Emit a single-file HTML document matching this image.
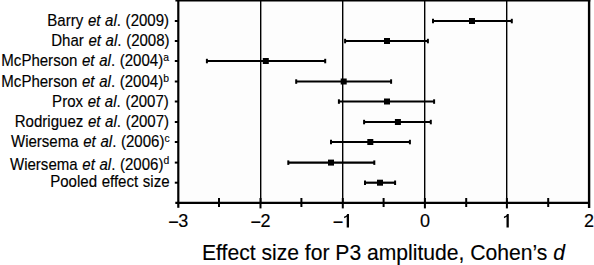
<!DOCTYPE html>
<html><head><meta charset="utf-8">
<style>
html,body{margin:0;padding:0;background:#fff;}
body{width:594px;height:265px;position:relative;overflow:hidden;font-family:"Liberation Sans",sans-serif;color:#000;}
.lab{position:absolute;right:424.7px;font-size:15.7px;line-height:15.7px;white-space:nowrap;text-align:right;transform:scaleX(0.958);transform-origin:100% 50%;word-spacing:0.5px;-webkit-text-stroke:0.15px #000;}
.lab sup{font-size:10.8px;line-height:0;vertical-align:0;position:relative;top:-5.5px;}
.tk{position:absolute;top:212px;font-size:18px;line-height:18px;width:60px;text-align:center;transform:scaleX(1.0);-webkit-text-stroke:0.15px #000;}
.title{position:absolute;left:202px;top:241.9px;font-size:22px;line-height:22px;white-space:nowrap;transform:scaleX(0.9595);transform-origin:0 50%;-webkit-text-stroke:0.15px #000;}
svg{position:absolute;left:0;top:0;}
.h{visibility:hidden;}
.m{position:relative;top:1.2px;left:0.5px;}
</style></head><body>
<svg width="594" height="265" viewBox="0 0 594 265">
 <rect x="178" y="1" width="411" height="202" fill="#fdfdfd"/>
 <g stroke="#000" fill="none">
  <g stroke-width="1.4">
   <line x1="260.7" y1="0" x2="260.7" y2="202"/>
   <line x1="342.7" y1="0" x2="342.7" y2="202"/>
   <line x1="424.7" y1="0" x2="424.7" y2="202"/>
   <line x1="506.7" y1="0" x2="506.7" y2="202"/>
  </g>
  <line x1="175.4" y1="0.75" x2="590.3" y2="0.75" stroke-width="1.5"/>
  <line x1="178.3" y1="0" x2="178.3" y2="207.8" stroke-width="2.2"/>
  <line x1="589.1" y1="0" x2="589.1" y2="208" stroke-width="2.4"/>
  <line x1="175.3" y1="202.8" x2="589" y2="202.8" stroke-width="2.2"/>
  <g stroke-width="2">
   <line x1="260.5" y1="198" x2="260.5" y2="208.4"/>
   <line x1="342.8" y1="198" x2="342.8" y2="208.4"/>
   <line x1="424.9" y1="198" x2="424.9" y2="208.4"/>
   <line x1="506.9" y1="198" x2="506.9" y2="208.4"/>
   <line x1="219" y1="198" x2="219" y2="207"/>
   <line x1="301.4" y1="198" x2="301.4" y2="207"/>
   <line x1="383.6" y1="198" x2="383.6" y2="207"/>
   <line x1="466.2" y1="198" x2="466.2" y2="207"/>
   <line x1="548.2" y1="198" x2="548.2" y2="207"/>
  </g>
  <g stroke-width="2">
   <line x1="174.8" y1="21.0" x2="178" y2="21.0"/>
<line x1="174.8" y1="41.0" x2="178" y2="41.0"/>
<line x1="174.8" y1="61.0" x2="178" y2="61.0"/>
<line x1="174.8" y1="81.5" x2="178" y2="81.5"/>
<line x1="174.8" y1="101.5" x2="178" y2="101.5"/>
<line x1="174.8" y1="122.0" x2="178" y2="122.0"/>
<line x1="174.8" y1="142.0" x2="178" y2="142.0"/>
<line x1="174.8" y1="162.6" x2="178" y2="162.6"/>
<line x1="174.8" y1="182.7" x2="178" y2="182.7"/>
  </g>
  <g stroke-width="2.2">
   <line x1="433.0" y1="21.0" x2="511.8" y2="21.0"/>
<line x1="433.0" y1="18.80" x2="433.0" y2="23.30" stroke-width="2.0"/>
<line x1="511.8" y1="18.80" x2="511.8" y2="23.30" stroke-width="2.0"/>
<line x1="345.1" y1="41.0" x2="427.9" y2="41.0"/>
<line x1="345.1" y1="38.80" x2="345.1" y2="43.30" stroke-width="2.0"/>
<line x1="427.9" y1="38.80" x2="427.9" y2="43.30" stroke-width="2.0"/>
<line x1="206.9" y1="61.0" x2="325.2" y2="61.0"/>
<line x1="206.9" y1="58.80" x2="206.9" y2="63.30" stroke-width="2.0"/>
<line x1="325.2" y1="58.80" x2="325.2" y2="63.30" stroke-width="2.0"/>
<line x1="296.2" y1="81.5" x2="391.1" y2="81.5"/>
<line x1="296.2" y1="79.30" x2="296.2" y2="83.80" stroke-width="2.0"/>
<line x1="391.1" y1="79.30" x2="391.1" y2="83.80" stroke-width="2.0"/>
<line x1="338.9" y1="101.5" x2="434.1" y2="101.5"/>
<line x1="338.9" y1="99.30" x2="338.9" y2="103.80" stroke-width="2.0"/>
<line x1="434.1" y1="99.30" x2="434.1" y2="103.80" stroke-width="2.0"/>
<line x1="364.1" y1="122.0" x2="430.8" y2="122.0"/>
<line x1="364.1" y1="119.80" x2="364.1" y2="124.30" stroke-width="2.0"/>
<line x1="430.8" y1="119.80" x2="430.8" y2="124.30" stroke-width="2.0"/>
<line x1="331.0" y1="142.0" x2="409.9" y2="142.0"/>
<line x1="331.0" y1="139.80" x2="331.0" y2="144.30" stroke-width="2.0"/>
<line x1="409.9" y1="139.80" x2="409.9" y2="144.30" stroke-width="2.0"/>
<line x1="288.3" y1="162.6" x2="374.3" y2="162.6"/>
<line x1="288.3" y1="160.40" x2="288.3" y2="164.90" stroke-width="2.0"/>
<line x1="374.3" y1="160.40" x2="374.3" y2="164.90" stroke-width="2.0"/>
<line x1="365.0" y1="182.7" x2="395.1" y2="182.7"/>
<line x1="365.0" y1="180.50" x2="365.0" y2="185.00" stroke-width="2.0"/>
<line x1="395.1" y1="180.50" x2="395.1" y2="185.00" stroke-width="2.0"/>
  </g>
 </g>
 <g fill="#000">
  <path d="M349.00,213.9 L347.20,213.9 C346.70,215.20 345.65,216.10 344.15,216.50 L344.15,218.20 C345.25,217.90 346.05,217.40 346.70,216.80 L346.70,227.4 L349.00,227.4 Z"/><path d="M508.80,213.9 L507.00,213.9 C506.50,215.20 505.45,216.10 503.95,216.50 L503.95,218.20 C505.05,217.90 505.85,217.40 506.50,216.80 L506.50,227.4 L508.80,227.4 Z"/>
  <rect x="469.0" y="18.0" width="6" height="6"/>
<rect x="384.0" y="38.0" width="6" height="6"/>
<rect x="262.8" y="58.0" width="6" height="6"/>
<rect x="340.7" y="78.5" width="6" height="6"/>
<rect x="384.0" y="98.5" width="6" height="6"/>
<rect x="394.9" y="119.0" width="6" height="6"/>
<rect x="367.3" y="139.0" width="6" height="6"/>
<rect x="328.0" y="159.6" width="6" height="6"/>
<rect x="377.0" y="179.7" width="6" height="6"/>
 </g>
</svg>
<div class="lab" style="top:12.51px">Barry <i>et al</i>. (2009)</div>
<div class="lab" style="top:32.81px">Dhar <i>et al</i>. (2008)</div>
<div class="lab" style="top:53.31px">McPherson <i>et al</i>. (2004)<sup>a</sup></div>
<div class="lab" style="top:74.11px">McPherson <i>et al</i>. (2004)<sup>b</sup></div>
<div class="lab" style="top:93.51px">Prox <i>et al</i>. (2007)</div>
<div class="lab" style="top:113.51px">Rodriguez <i>et al</i>. (2007)</div>
<div class="lab" style="top:134.11px">Wiersema <i>et al</i>. (2006)<sup>c</sup></div>
<div class="lab" style="top:156.61px">Wiersema <i>et al</i>. (2006)<sup>d</sup></div>
<div class="lab" style="top:174.11px">Pooled effect size</div>
<div class="tk" style="left:148px"><span class=m>&minus;</span>3</div>
<div class="tk" style="left:230.2px"><span class=m>&minus;</span>2</div>
<div class="tk" style="left:312.6px"><span class=m>&minus;</span><span class=h>1</span></div>
<div class="tk" style="left:395px">0</div>
<div class="tk" style="left:477px"><span class=h>1</span></div>
<div class="tk" style="left:559px">2</div>
<div class="title">Effect size for P3 amplitude, Cohen&rsquo;s <i>d</i></div>
</body></html>
